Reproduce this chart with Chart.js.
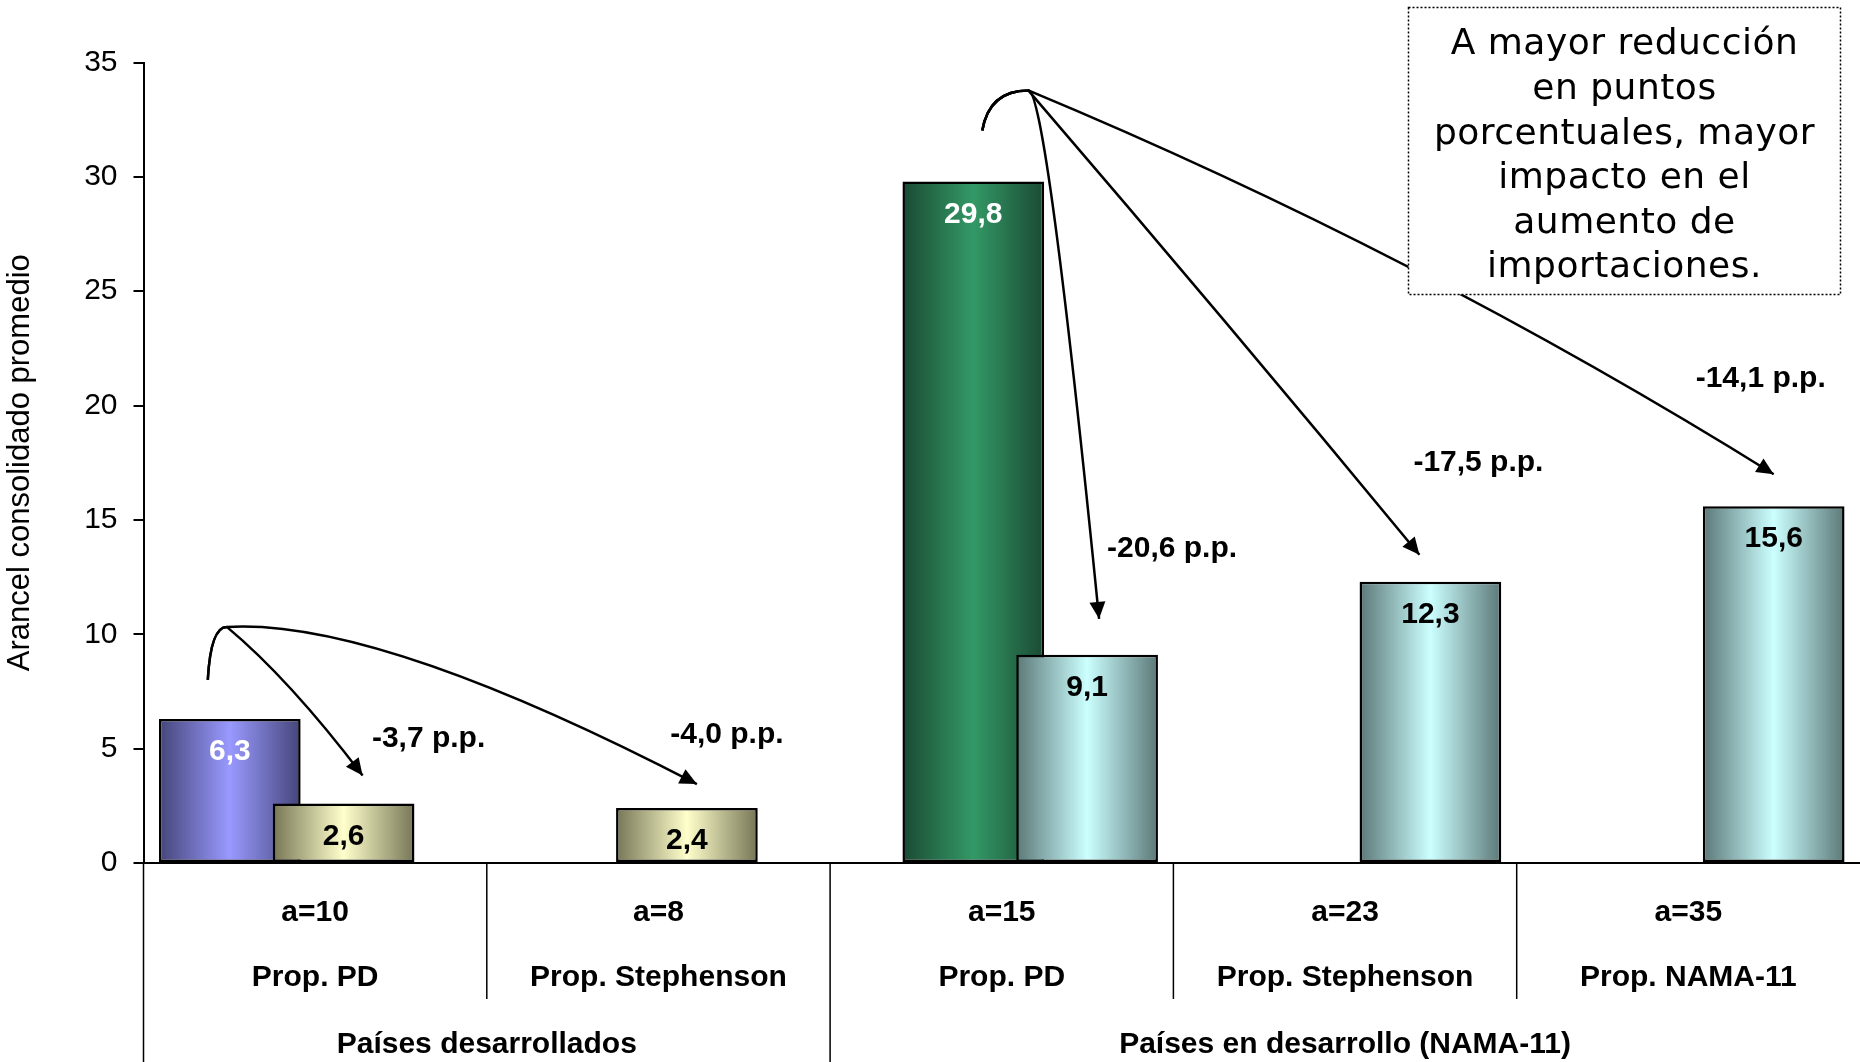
<!DOCTYPE html>
<html>
<head>
<meta charset="utf-8">
<script src="https://cdn.jsdelivr.net/npm/chart.js@4.4.1/dist/chart.umd.min.js"></script>
<style>
  body { margin: 0; background: #fff; }
  #wrap { width: 1860px; height: 1062px; position: relative; }
</style>
</head>
<body>
<div id="wrap"><canvas id="grafico"></canvas></div>
<script>
// Datos
const categorias = [
    ['a=10', 'Prop. PD'],
    ['a=8', 'Prop. Stephenson'],
    ['a=15', 'Prop. PD'],
    ['a=23', 'Prop. Stephenson'],
    ['a=35', 'Prop. NAMA-11']
];
const grupos = ['Países desarrollados', 'Países en desarrollo (NAMA-11)'];
const gruposTamano = [2, 3];

const baseDesarrollados = [6.3, null, null, null, null];
const baseNama = [null, null, 29.8, null, null];
const propDesarrollados = [2.6, 2.4, null, null, null];
const propNama = [null, null, 9.1, 12.3, 15.6];

const reducciones = ['-3,7 p.p.', '-4,0 p.p.', '-20,6 p.p.', '-17,5 p.p.', '-14,1 p.p.'];
const nota = ['A mayor reducción', 'en puntos', 'porcentuales, mayor', 'impacto en el', 'aumento de', 'importaciones.'];

const yTicks = [0, 5, 10, 15, 20, 25, 30, 35];

// flechas: desde barra base [dataset, indice] hacia barra destino
const flechas = [
    { desde: [0, 0], hasta: [2, 0] },
    { desde: [0, 0], hasta: [2, 1] },
    { desde: [1, 2], hasta: [3, 2] },
    { desde: [1, 2], hasta: [3, 3] },
    { desde: [1, 2], hasta: [3, 4] }
];

// ajustes de dibujo (px, relativos a la barra)
const inicioOff = { 0: [-22, -39], 1: [9, -51] };
const cimaOff = { 0: [-3, -92], 1: [55, -91] };
const puntaOff = [[19, -28], [10, -24], [12, -36], [-11, -27], [0, -32]];
// [posicion del control sobre la cuerda, desvio perpendicular]
const curva = [[0.4, 11], [0.28, 56], [0, 18], [0.5, 3], [0.5, 34]];
const etiquetaOff = [[85, -65], [40, -73], [85, -106], [48, -119], [-13, -127]];

const FUENTE = '"Liberation Sans", Arial, sans-serif';
const CAT_PCT = 0.663;
const BAR_PCT = 2.49;

Chart.defaults.font.family = FUENTE;
Chart.defaults.color = '#000';

function degradado(oscuro, claro) {
    return function (c) {
        const chart = c.chart;
        const xs = chart.scales.x;
        if (c.type !== 'data' || !xs || !xs.width) return claro;
        const n = chart.data.datasets.length;
        const catW = xs.width / categorias.length;
        const chunk = catW * CAT_PCT / n;
        const centro = xs.getPixelForValue(c.dataIndex) - catW * CAT_PCT / 2 + chunk * (c.datasetIndex + 0.5);
        const medio = chunk * BAR_PCT / 2;
        const g = chart.ctx.createLinearGradient(centro - medio, 0, centro + medio, 0);
        g.addColorStop(0, oscuro);
        g.addColorStop(0.5, claro);
        g.addColorStop(1, oscuro);
        return g;
    };
}

// dibuja las series en orden (la ultima encima, como Excel)
const ordenPlugin = {
    id: 'orden',
    beforeDatasetsDraw(chart) {
        chart.getSortedVisibleDatasetMetas().forEach(meta => meta.controller.draw());
        return false;
    }
};

function barra(chart, ds, i) {
    return chart.getDatasetMeta(ds).data[i];
}

function dibujarFlecha(ctx, S, A, T, k) {
    ctx.beginPath();
    ctx.moveTo(S.x, S.y);
    ctx.quadraticCurveTo(S.x + (A.x - S.x) * 0.15, A.y, A.x, A.y);
    const dx = T.x - A.x, dy = T.y - A.y;
    const len = Math.hypot(dx, dy);
    const C = {
        x: A.x + dx * k[0] + (dy / len) * k[1],
        y: A.y + dy * k[0] - (dx / len) * k[1]
    };
    ctx.quadraticCurveTo(C.x, C.y, T.x, T.y);
    ctx.stroke();
    const ang = Math.atan2(T.y - C.y, T.x - C.x);
    const L = 17, W = 8;
    ctx.beginPath();
    ctx.moveTo(T.x, T.y);
    ctx.lineTo(T.x - L * Math.cos(ang) + W * Math.sin(ang), T.y - L * Math.sin(ang) - W * Math.cos(ang));
    ctx.lineTo(T.x - L * Math.cos(ang) - W * Math.sin(ang), T.y - L * Math.sin(ang) + W * Math.cos(ang));
    ctx.closePath();
    ctx.fill();
}

const extrasPlugin = {
    id: 'extras',
    afterDraw(chart) {
        const { ctx, chartArea } = chart;
        const xs = chart.scales.x;
        const catW = xs.width / categorias.length;
        ctx.save();

        // valores dentro de las barras
        ctx.font = 'bold 30px ' + FUENTE;
        ctx.textAlign = 'center';
        ctx.textBaseline = 'middle';
        chart.data.datasets.forEach((ds, d) => {
            chart.getDatasetMeta(d).data.forEach((el, i) => {
                if (ds.data[i] == null) return;
                ctx.fillStyle = d < 2 ? '#fff' : '#000';
                ctx.fillText(ds.data[i].toFixed(1).replace('.', ','), el.x, el.y + 33);
            });
        });

        // separadores del eje de categorias
        ctx.strokeStyle = '#000';
        ctx.lineWidth = 1.5;
        ctx.beginPath();
        ctx.moveTo(chartArea.left, chartArea.bottom);
        ctx.lineTo(chartArea.left, chart.height);
        let acum = 0;
        const limitesGrupo = gruposTamano.map(n => (acum += n));
        for (let i = 1; i < categorias.length; i++) {
            const x = xs.left + i * catW;
            ctx.moveTo(x, chartArea.bottom);
            ctx.lineTo(x, limitesGrupo.includes(i) ? chart.height : chartArea.bottom + 136);
        }
        ctx.stroke();

        // nombres de grupo
        ctx.fillStyle = '#000';
        let ini = 0;
        gruposTamano.forEach((n, g) => {
            const cx = xs.left + (ini + n / 2) * catW;
            ctx.fillText(grupos[g], cx, chartArea.bottom + 181.5);
            ini += n;
        });

        // flechas
        ctx.lineWidth = 2.5;
        ctx.fillStyle = '#000';
        flechas.forEach((f, j) => {
            const b = barra(chart, f.desde[0], f.desde[1]);
            const t = barra(chart, f.hasta[0], f.hasta[1]);
            const S = { x: b.x + inicioOff[f.desde[0]][0], y: b.y + inicioOff[f.desde[0]][1] };
            const A = { x: b.x + cimaOff[f.desde[0]][0], y: b.y + cimaOff[f.desde[0]][1] };
            const T = { x: t.x + puntaOff[j][0], y: t.y + puntaOff[j][1] };
            dibujarFlecha(ctx, S, A, T, curva[j]);
            ctx.fillText(reducciones[j], t.x + etiquetaOff[j][0], t.y + etiquetaOff[j][1]);
        });

        // cuadro de texto
        const bx = 1408.5, by = 7.5, bw = 432, bh = 287;
        ctx.fillStyle = '#fff';
        ctx.fillRect(bx, by, bw, bh);
        ctx.setLineDash([2, 2]);
        ctx.lineWidth = 1.5;
        ctx.strokeRect(bx, by, bw, bh);
        ctx.setLineDash([]);
        ctx.fillStyle = '#000';
        ctx.font = '36px "DejaVu Sans", Verdana, sans-serif';
        ctx.letterSpacing = '0.5px';
        nota.forEach((linea, i) => {
            ctx.fillText(linea, bx + bw / 2, 45 + i * 44.6);
        });
        ctx.restore();
    }
};

const ctxG = document.getElementById('grafico').getContext('2d');
new Chart(ctxG, {
    type: 'bar',
    data: {
        labels: categorias,
        datasets: [
            { label: 'Base PD', data: baseDesarrollados, backgroundColor: degradado('#45457a', '#9999ff') },
            { label: 'Base NAMA', data: baseNama, backgroundColor: degradado('#1a4a33', '#339966') },
            { label: 'Prop. PD', data: propDesarrollados, backgroundColor: degradado('#767656', '#ffffcc') },
            { label: 'Prop. NAMA', data: propNama, backgroundColor: degradado('#5c7878', '#ccffff') }
        ]
    },
    options: {
        responsive: true,
        maintainAspectRatio: false,
        animation: false,
        layout: { padding: { top: 62.5, right: 0, bottom: 43, left: 0 } },
        datasets: {
            bar: {
                categoryPercentage: CAT_PCT,
                barPercentage: BAR_PCT,
                borderColor: '#000',
                borderWidth: 2.5,
                borderSkipped: false
            }
        },
        plugins: {
            legend: { display: false },
            tooltip: { enabled: false }
        },
        scales: {
            x: {
                offset: true,
                grid: { display: false },
                border: { display: true, color: '#000', width: 2 },
                ticks: {
                    color: '#000',
                    autoSkip: false,
                    maxRotation: 0,
                    padding: 9,
                    font: { size: 30, weight: 'bold', lineHeight: '65px' }
                }
            },
            y: {
                min: 0,
                max: 35,
                afterBuildTicks: s => { s.ticks = yTicks.map(v => ({ value: v })); },
                afterFit: s => { s.width = 143.5; },
                grid: { drawOnChartArea: false, drawTicks: true, tickLength: 10, color: '#000', lineWidth: 2 },
                border: { display: true, color: '#000', width: 2 },
                ticks: { color: '#000', padding: 16, font: { size: 30 } },
                title: {
                    display: true,
                    text: 'Arancel consolidado promedio',
                    color: '#000',
                    font: { size: 31 },
                    padding: { top: 2, bottom: 0 }
                }
            }
        }
    },
    plugins: [ordenPlugin, extrasPlugin]
});
</script>
</body>
</html>
